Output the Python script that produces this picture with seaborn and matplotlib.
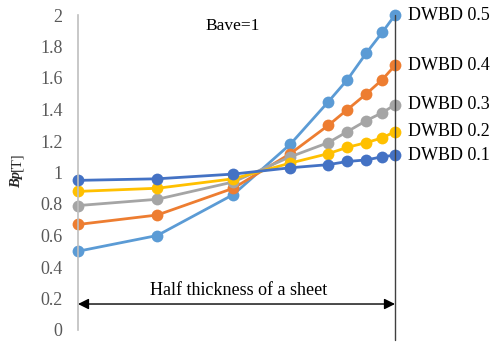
import matplotlib
matplotlib.use("Agg")
import matplotlib.pyplot as plt
import seaborn as sns
import pandas as pd

# ---- data ----
positions = [0.0, 0.25, 0.49, 0.67, 0.79, 0.85, 0.91, 0.96, 1.0]
dwbd_05 = [0.50, 0.60, 0.86, 1.18, 1.45, 1.59, 1.76, 1.89, 2.00]
dwbd_04 = [0.67, 0.73, 0.90, 1.12, 1.30, 1.40, 1.50, 1.59, 1.68]
dwbd_03 = [0.79, 0.83, 0.94, 1.10, 1.19, 1.26, 1.33, 1.38, 1.43]
dwbd_02 = [0.88, 0.90, 0.96, 1.06, 1.12, 1.16, 1.19, 1.22, 1.26]
dwbd_01 = [0.95, 0.96, 0.99, 1.03, 1.05, 1.07, 1.08, 1.10, 1.11]
series_names = ["DWBD 0.5", "DWBD 0.4", "DWBD 0.3", "DWBD 0.2", "DWBD 0.1"]
series_vals = [dwbd_05, dwbd_04, dwbd_03, dwbd_02, dwbd_01]
colors = ["#5B9BD5", "#ED7D31", "#A5A5A5", "#FFC000", "#4472C4"]
yticks = [0, 0.2, 0.4, 0.6, 0.8, 1, 1.2, 1.4, 1.6, 1.8, 2]
ytick_labels = ["0", "0.2", "0.4", "0.6", "0.8", "1", "1.2", "1.4", "1.6", "1.8", "2"]

rows = []
for name, vals in zip(series_names, series_vals):
    for x, y in zip(positions, vals):
        rows.append({"pos": x, "Bp": y, "series": name})
df = pd.DataFrame(rows)

sns.set_theme(style="white")
plt.rcParams["font.family"] = ["Liberation Serif", "DejaVu Serif"]

W, H = 491, 344
fig = plt.figure(figsize=(W / 100, H / 100), dpi=100)
ax = fig.add_axes([78 / W, 1 - 330 / H, 317 / W, 315 / H])

sns.lineplot(data=df, x="pos", y="Bp", hue="series", hue_order=series_names,
             palette=colors, marker="o", markersize=8.5, markeredgewidth=0,
             linewidth=2, sort=False, estimator=None, legend=False, ax=ax)
for line in ax.lines:
    line.set_clip_on(False)

ax.set_xlim(0, 1)
ax.set_ylim(0, 2)
ax.set_xticks([])
ax.set_yticks(yticks)
ax.set_yticklabels(ytick_labels)
ax.tick_params(axis="y", length=0, pad=11, labelsize=13, labelcolor="#595959")
ax.set_xlabel("")
ax.set_ylabel("")
for s in ["top", "right", "bottom"]:
    ax.spines[s].set_visible(False)
ax.spines["left"].set_color("#BFBFBF")
ax.spines["left"].set_linewidth(1.2)

# series labels at the last point
for name, vals, c in zip(series_names, series_vals, colors):
    ax.annotate(name, xy=(positions[-1], vals[-1]), xytext=(9, 0),
                textcoords="offset points", va="center", ha="left",
                fontsize=13, color="black", annotation_clip=False)

# vertical line at surface
ax.axvline(1.0, ymin=-0.032, ymax=1.0, color="#404040", lw=1, clip_on=False)

# double arrow
ax.annotate("", xy=(0.0, 0.165), xytext=(1.0, 0.165),
            arrowprops=dict(arrowstyle="<|-|>", color="black", lw=1,
                            mutation_scale=16, shrinkA=0, shrinkB=0))
ax.text(0.507, 0.25, "Half thickness of a sheet", ha="center", va="center",
        fontsize=13, color="black")
ax.text(0.489, 1.93, "Bave=1", ha="center", va="center", fontsize=12.5,
        color="black")

# y label
fig.text(20 / W, 1 - 188 / H, "Bp", rotation=90, rotation_mode="anchor",
         ha="left", va="baseline", fontsize=10.5, fontweight="bold",
         fontstyle="italic")
fig.text(20 / W, 1 - 152 / H, "[T]", rotation=90, rotation_mode="anchor",
         ha="right", va="baseline", fontsize=10.5)

fig.savefig("out.png", dpi=100)
